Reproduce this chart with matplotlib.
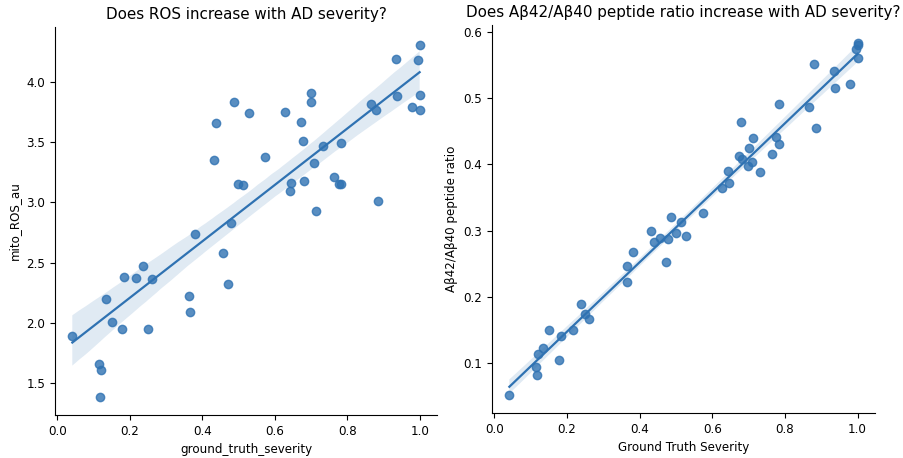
import matplotlib
matplotlib.use("Agg")
import matplotlib.pyplot as plt
import seaborn as sns
import numpy as np

severity = [1.0, 0.935, 0.995, 0.70, 1.0, 0.487, 0.699, 0.866, 0.879, 0.937,
            0.978, 1.0, 0.528, 0.627, 0.438, 0.673, 0.678, 0.783, 0.732, 0.432,
            0.573, 0.708, 0.499, 0.513, 0.645, 0.682, 0.763, 0.776, 0.783, 0.643,
            0.885, 0.713, 0.479, 0.381, 0.457, 0.472, 0.237, 0.183, 0.217, 0.260,
            0.364, 0.366, 0.135, 0.150, 0.177, 0.250, 0.041, 0.115, 0.121, 0.117]
mito_ros = [4.31, 4.19, 4.18, 3.91, 3.89, 3.83, 3.83, 3.82, 3.77, 3.88,
            3.79, 3.77, 3.74, 3.75, 3.66, 3.67, 3.51, 3.49, 3.47, 3.35,
            3.38, 3.33, 3.15, 3.14, 3.16, 3.18, 3.21, 3.15, 3.15, 3.09,
            3.01, 2.93, 2.83, 2.74, 2.58, 2.32, 2.47, 2.38, 2.37, 2.36,
            2.22, 2.09, 2.20, 2.01, 1.95, 1.95, 1.89, 1.66, 1.61, 1.38]
ab_ratio = [0.584, 0.541, 0.575, 0.425, 0.580, 0.320, 0.398, 0.487, 0.552, 0.516,
            0.522, 0.560, 0.292, 0.364, 0.283, 0.412, 0.464, 0.491, 0.389, 0.299,
            0.327, 0.404, 0.297, 0.313, 0.372, 0.408, 0.416, 0.441, 0.431, 0.390,
            0.455, 0.440, 0.287, 0.267, 0.288, 0.252, 0.189, 0.141, 0.149, 0.166,
            0.247, 0.222, 0.123, 0.149, 0.105, 0.174, 0.051, 0.094, 0.113, 0.082]

plt.rcParams['font.size'] = 8.6

fig = plt.figure(figsize=(9.04, 4.58), dpi=100)
ax1 = fig.add_axes([0.0608, 0.0939, 0.4226, 0.8472])
ax2 = fig.add_axes([0.5442, 0.0983, 0.4237, 0.8472])

col = '#2f72b2'
sns.regplot(x=np.array(severity), y=np.array(mito_ros), ax=ax1, seed=0,
            color=col, line_kws={'lw': 1.6})
ax1.set_xlabel('ground_truth_severity')
ax1.set_ylabel('mito_ROS_au')
ax1.set_title('Does ROS increase with AD severity?', fontsize=10.9)

sns.regplot(x=np.array(severity), y=np.array(ab_ratio), ax=ax2, seed=0,
            color=col, line_kws={'lw': 1.6})
ax2.set_xlabel('Ground Truth Severity')
ax2.set_ylabel('Aβ42/Aβ40 peptide ratio')
ax2.set_title('Does Aβ42/Aβ40 peptide ratio increase with AD severity?', fontsize=10.9)

for ax in (ax1, ax2):
    ax.spines['top'].set_visible(False)
    ax.spines['right'].set_visible(False)

fig.savefig('out.png', dpi=100)
